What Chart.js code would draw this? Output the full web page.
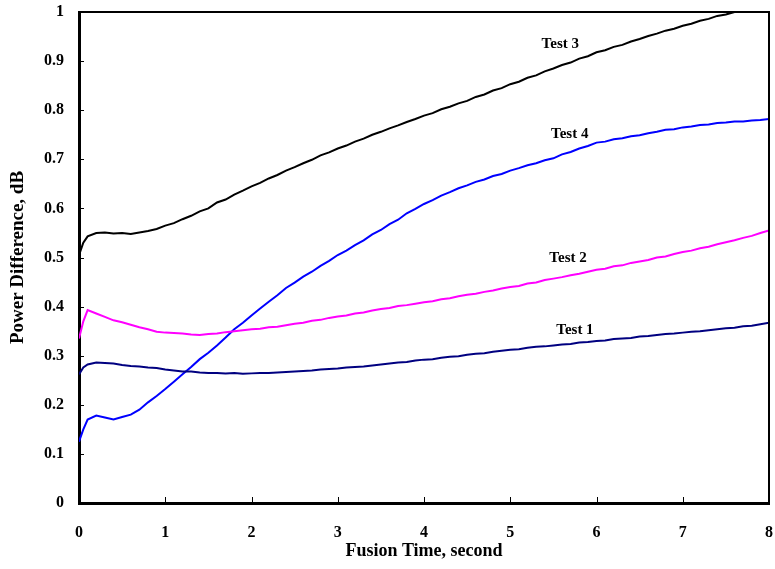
<!DOCTYPE html>
<html lang="en">
<head>
  <meta charset="UTF-8" />
  <title>Power Difference vs Fusion Time</title>
  <script src="https://cdn.jsdelivr.net/npm/chart.js"></script>
  <style>
    body { margin: 0; padding: 0; background: #ffffff; }
    #wrap { width: 775px; height: 569px; }
  </style>
</head>
<body>
  <div id="wrap"><canvas id="fusionChart"></canvas></div>

  <script>
    // fusion time (s)
    const time = [0, 0.05, 0.1, 0.2, 0.3, 0.4, 0.5, 0.6, 0.7, 0.8, 0.9,
      1.0, 1.1, 1.2, 1.3, 1.4, 1.5, 1.6, 1.7, 1.8, 1.9,
      2.0, 2.1, 2.2, 2.3, 2.4, 2.5, 2.6, 2.7, 2.8, 2.9,
      3.0, 3.1, 3.2, 3.3, 3.4, 3.5, 3.6, 3.7, 3.8, 3.9,
      4.0, 4.1, 4.2, 4.3, 4.4, 4.5, 4.6, 4.7, 4.8, 4.9,
      5.0, 5.1, 5.2, 5.3, 5.4, 5.5, 5.6, 5.7, 5.8, 5.9,
      6.0, 6.1, 6.2, 6.3, 6.4, 6.5, 6.6, 6.7, 6.8, 6.9,
      7.0, 7.1, 7.2, 7.3, 7.4, 7.5, 7.6, 7.7, 7.8, 7.9, 8.0];

    // power difference (dB)
    const test1 = [0.262, 0.276, 0.282, 0.286, 0.285, 0.284, 0.281, 0.279, 0.278, 0.276, 0.275,
      0.272, 0.270, 0.268, 0.268, 0.266, 0.265, 0.265, 0.264, 0.265, 0.263,
      0.264, 0.265, 0.265, 0.266, 0.267, 0.268, 0.269, 0.270, 0.272, 0.273,
      0.274, 0.276, 0.277, 0.278, 0.280, 0.282, 0.284, 0.286, 0.287, 0.290,
      0.292, 0.293, 0.296, 0.298, 0.299, 0.302, 0.304, 0.305, 0.308, 0.310,
      0.312, 0.313, 0.316, 0.318, 0.319, 0.321, 0.323, 0.324, 0.327, 0.328,
      0.330, 0.331, 0.334, 0.335, 0.336, 0.339, 0.340, 0.342, 0.344, 0.345,
      0.347, 0.349, 0.350, 0.352, 0.354, 0.356, 0.357, 0.360, 0.361, 0.364, 0.367];

    const test2 = [0.335, 0.370, 0.393, 0.386, 0.379, 0.372, 0.368, 0.363, 0.358, 0.354, 0.349,
      0.347, 0.346, 0.345, 0.343, 0.342, 0.344, 0.345, 0.348, 0.350, 0.352,
      0.354, 0.355, 0.358, 0.359, 0.362, 0.365, 0.367, 0.371, 0.373, 0.377,
      0.380, 0.382, 0.386, 0.388, 0.392, 0.395, 0.397, 0.401, 0.403, 0.406,
      0.409, 0.411, 0.415, 0.417, 0.421, 0.424, 0.426, 0.430, 0.433, 0.437,
      0.440, 0.442, 0.447, 0.449, 0.454, 0.457, 0.460, 0.464, 0.467, 0.471,
      0.475, 0.477, 0.482, 0.484, 0.489, 0.492, 0.495, 0.500, 0.502, 0.507,
      0.511, 0.514, 0.519, 0.522, 0.527, 0.531, 0.535, 0.540, 0.544, 0.550, 0.555];

    const test3 = [0.505, 0.530, 0.543, 0.550, 0.551, 0.549, 0.550, 0.548, 0.551, 0.554, 0.558,
      0.565, 0.570, 0.578, 0.585, 0.594, 0.600, 0.612, 0.618, 0.628, 0.636,
      0.645, 0.652, 0.661, 0.668, 0.677, 0.684, 0.692, 0.699, 0.708, 0.714,
      0.722, 0.728, 0.736, 0.742, 0.750, 0.756, 0.763, 0.769, 0.776, 0.782,
      0.789, 0.794, 0.802, 0.807, 0.814, 0.819, 0.827, 0.832, 0.840, 0.845,
      0.853, 0.858, 0.866, 0.871, 0.879, 0.885, 0.892, 0.897, 0.905, 0.910,
      0.918, 0.922, 0.929, 0.933, 0.940, 0.945, 0.951, 0.956, 0.962, 0.966,
      0.972, 0.976, 0.982, 0.986, 0.992, 0.995, 1.000, 1.005, 1.010, 1.015, 1.020];

    const test4 = [0.125, 0.150, 0.170, 0.178, 0.174, 0.170, 0.175, 0.180, 0.190, 0.205, 0.218,
      0.232, 0.247, 0.262, 0.277, 0.293, 0.306, 0.321, 0.337, 0.354, 0.367,
      0.382, 0.396, 0.410, 0.423, 0.438, 0.449, 0.461, 0.471, 0.483, 0.493,
      0.505, 0.514, 0.525, 0.535, 0.547, 0.556, 0.568, 0.577, 0.590, 0.599,
      0.609, 0.617, 0.626, 0.633, 0.641, 0.647, 0.654, 0.659, 0.666, 0.670,
      0.677, 0.682, 0.688, 0.692, 0.698, 0.702, 0.710, 0.715, 0.722, 0.727,
      0.734, 0.736, 0.741, 0.743, 0.747, 0.749, 0.753, 0.756, 0.760, 0.761,
      0.765, 0.767, 0.770, 0.771, 0.774, 0.775, 0.777, 0.777, 0.779, 0.780, 0.782];

    const seriesNames = ['Test 1', 'Test 2', 'Test 3', 'Test 4'];
    const seriesColors = ['#000080', '#ff00ff', '#000000', '#0000ff'];
    // where each curve label sits, in data units (time, dB)
    const labelX = [5.75, 5.67, 5.58, 5.69];
    const labelY = [0.352, 0.499, 0.935, 0.752];

    const allSeries = [test1, test2, test3, test4];
    const datasets = allSeries.map((vals, i) => ({
      label: seriesNames[i],
      data: time.map((t, j) => ({ x: t, y: vals[j] })),
      borderColor: seriesColors[i],
      borderWidth: 2,
      pointRadius: 0,
      tension: 0,
      fill: false
    }));

    // frame on top/right, inner tick marks, curve labels
    const framePlugin = {
      id: 'frame',
      afterDraw(chart) {
        const { ctx, chartArea: a, scales } = chart;
        ctx.save();
        ctx.strokeStyle = '#000';
        ctx.lineWidth = 2;
        ctx.beginPath();
        ctx.moveTo(a.left, a.top);
        ctx.lineTo(a.right, a.top);
        ctx.lineTo(a.right, a.bottom);
        ctx.stroke();

        ctx.lineWidth = 1;
        ctx.beginPath();
        scales.y.ticks.forEach(t => {
          const py = Math.round(scales.y.getPixelForValue(t.value)) + 0.5;
          ctx.moveTo(a.left, py);
          ctx.lineTo(a.left + 5, py);
        });
        scales.x.ticks.forEach(t => {
          const px = Math.round(scales.x.getPixelForValue(t.value)) + 0.5;
          ctx.moveTo(px, a.bottom);
          ctx.lineTo(px, a.bottom - 6);
        });
        ctx.stroke();

        ctx.fillStyle = '#000';
        ctx.font = 'bold 15px "Liberation Serif", "Times New Roman", serif';
        ctx.textAlign = 'center';
        ctx.textBaseline = 'middle';
        seriesNames.forEach((name, i) => {
          ctx.fillText(name, scales.x.getPixelForValue(labelX[i]), scales.y.getPixelForValue(labelY[i]));
        });
        ctx.restore();
      }
    };

    const serif = '"Liberation Serif", "Times New Roman", serif';

    // keep the plot box where the reference has it
    const noEdgePad = s => {
      s.paddingTop = 0;
      s.paddingBottom = 0;
      s.paddingLeft = 0;
      s.paddingRight = 0;
    };

    new Chart(document.getElementById('fusionChart'), {
      type: 'line',
      data: { datasets },
      options: {
        responsive: true,
        maintainAspectRatio: false,
        animation: false,
        layout: { padding: { top: 12, right: 6, left: 0, bottom: 0 } },
        plugins: {
          legend: { display: false },
          tooltip: { enabled: false }
        },
        scales: {
          x: {
            type: 'linear',
            min: 0,
            max: 8,
            grid: { display: false, drawTicks: false },
            border: { display: true, color: '#000', width: 3 },
            ticks: {
              stepSize: 1,
              color: '#000',
              padding: 20,
              font: { family: serif, size: 16, weight: 'bold' }
            },
            title: {
              display: true,
              text: 'Fusion Time, second',
              color: '#000',
              font: { family: serif, size: 18, weight: 'bold' },
              padding: { top: 0, bottom: 7 }
            },
            afterFit: s => { s.height = 66; noEdgePad(s); }
          },
          y: {
            min: 0,
            max: 1,
            grid: { display: false, drawTicks: false },
            border: { display: true, color: '#000', width: 3 },
            ticks: {
              stepSize: 0.1,
              color: '#000',
              padding: 15,
              font: { family: serif, size: 16, weight: 'bold' },
              callback: v => String(Number(v.toFixed(1)))
            },
            title: {
              display: true,
              text: 'Power Difference, dB',
              color: '#000',
              font: { family: serif, size: 19, weight: 'bold' },
              padding: { top: 7, bottom: 0 }
            },
            afterFit: s => { s.width = 79; noEdgePad(s); }
          }
        }
      },
      plugins: [framePlugin]
    });
  </script>
</body>
</html>
